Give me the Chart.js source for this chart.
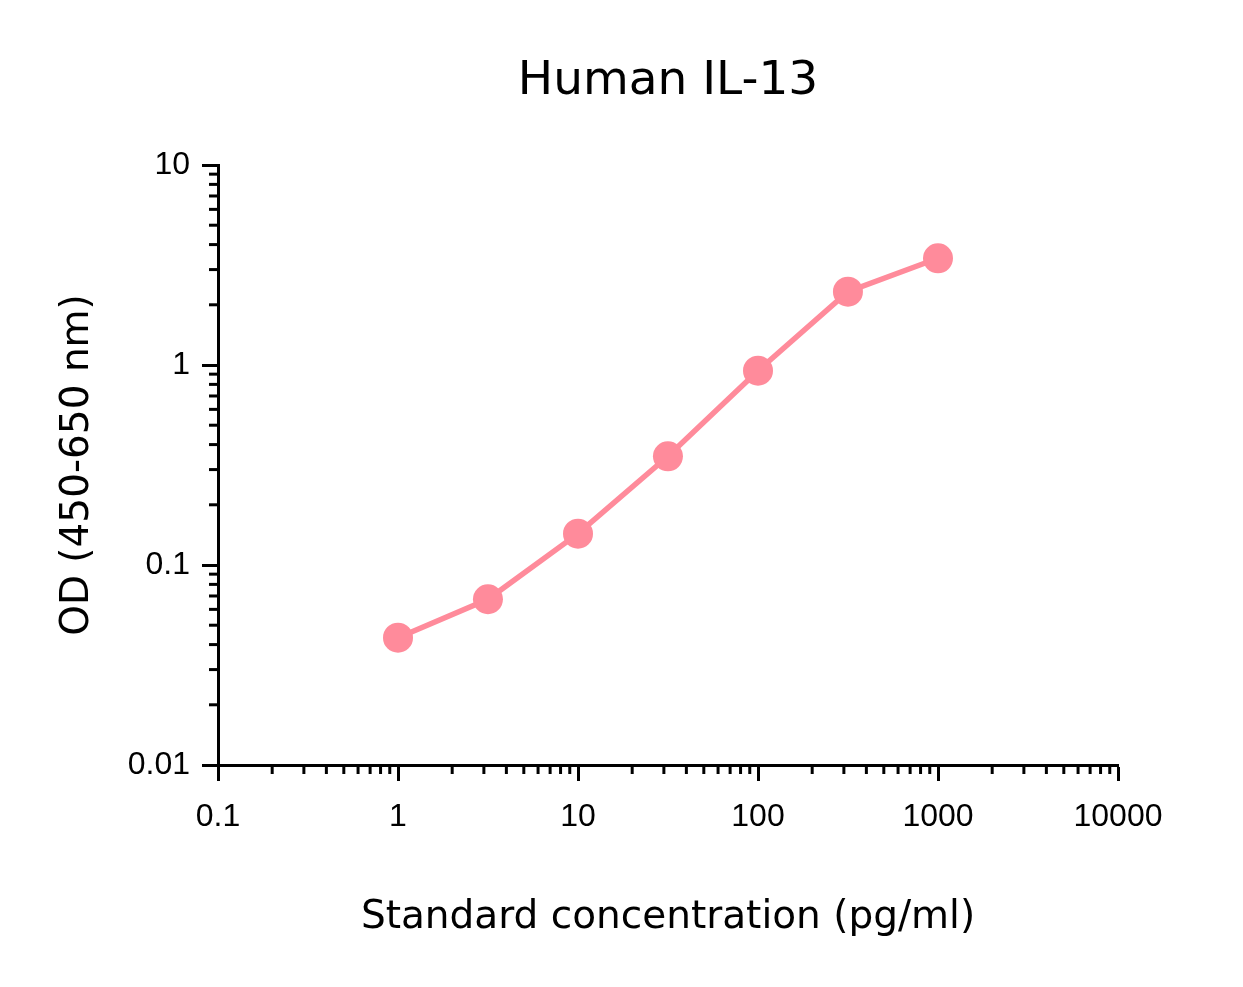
<!DOCTYPE html>
<html>
<head>
<meta charset="utf-8">
<script src="https://cdn.jsdelivr.net/npm/chart.js@4/dist/chart.umd.min.js"></script>
<style>
  html, body { margin: 0; padding: 0; background: #fff; }
  #wrap { width: 1243px; height: 987px; }
</style>
</head>
<body>
<div id="wrap"><canvas id="curva"></canvas></div>
<script>
// Standard curve
const concentrations = [1, 3.16, 10, 31.6, 100, 316, 1000];
const odValues = [0.0433, 0.0674, 0.1434, 0.3496, 0.9365, 2.326, 3.416];

// Axis ticks (powers of ten get a label)
const xMajorTicks = [0.1, 1, 10, 100, 1000, 10000];
const yMajorTicks = [0.01, 0.1, 1, 10];

const pink = 'rgb(255,139,155)';

// Builds major + minor (2..9) ticks for a log axis
function logTicks(majors) {
    const ticks = [];
    majors.forEach((d, i) => {
        ticks.push({ value: d, major: true });
        if (i < majors.length - 1) {
            for (let k = 2; k <= 9; k++) {
                ticks.push({ value: Number((d * k).toPrecision(6)), major: false });
            }
        }
    });
    return ticks;
}

// Short minor tick marks, drawn on top of the library's axes
const minorTicks = {
    id: 'minorTicks',
    afterDraw(chart) {
        const ctx = chart.ctx;
        ctx.save();
        ctx.strokeStyle = '#000';
        ctx.lineWidth = 3;
        ['x', 'y'].forEach(id => {
            const s = chart.scales[id];
            s.ticks.forEach(t => {
                if (t.major) return;
                const p = s.getPixelForValue(t.value);
                ctx.beginPath();
                if (id === 'x') {
                    ctx.moveTo(p, s.top);
                    ctx.lineTo(p, s.top + 9);
                } else {
                    ctx.moveTo(s.right, p);
                    ctx.lineTo(s.right - 9, p);
                }
                ctx.stroke();
            });
        });
        ctx.restore();
    }
};

function eixo(majors, titulo, extra) {
    return Object.assign({
        type: 'logarithmic',
        min: majors[0],
        max: majors[majors.length - 1],
        afterBuildTicks: (scale) => { scale.ticks = logTicks(majors); },
        grid: {
            drawOnChartArea: false,
            tickLength: 16,
            tickWidth: 3,
            tickColor: (c) => (c.tick && c.tick.major) ? '#000' : 'rgba(0,0,0,0)'
        },
        border: { color: '#000', width: 3 },
        ticks: {
            autoSkip: false,
            maxRotation: 0,
            color: '#000',
            font: { family: '"Liberation Sans", Arial, sans-serif', size: 32 },
            callback: (v, i, ticks) => ticks[i].major ? String(v) : ''
        },
        title: {
            display: true,
            text: titulo,
            color: '#000',
            font: { family: '"DejaVu Sans", Verdana, sans-serif', size: 39 }
        }
    }, extra);
}

document.addEventListener('DOMContentLoaded', () => {
    const ctx = document.getElementById('curva').getContext('2d');

    const xAxis = eixo(xMajorTicks, 'Standard concentration (pg/ml)', {
        afterFit: (scale) => { scale.height = 222; }
    });
    xAxis.ticks.padding = 17;
    xAxis.title.padding = { top: 0, bottom: 46 };

    const yAxis = eixo(yMajorTicks, 'OD (450-650 nm)', {
        afterFit: (scale) => { scale.width = 218; }
    });
    yAxis.ticks.padding = 12;
    yAxis.title.padding = { top: 54, bottom: 0 };

    new Chart(ctx, {
        type: 'scatter',
        data: {
            datasets: [{
                data: concentrations.map((c, i) => ({ x: c, y: odValues[i] })),
                showLine: true,
                borderColor: pink,
                borderWidth: 5.5,
                backgroundColor: pink,
                pointBackgroundColor: pink,
                pointBorderWidth: 0,
                pointRadius: 15,
                pointHoverRadius: 15
            }]
        },
        options: {
            responsive: true,
            maintainAspectRatio: false,
            animation: false,
            layout: { padding: { left: 0, right: 125, top: 0, bottom: 0 } },
            scales: { x: xAxis, y: yAxis },
            plugins: {
                legend: { display: false },
                tooltip: { enabled: false },
                title: {
                    display: true,
                    text: 'Human IL-13',
                    fullSize: false,
                    color: '#000',
                    font: { family: '"DejaVu Sans", Verdana, sans-serif', size: 47, weight: 'normal' },
                    padding: { top: 54, bottom: 54.6 }
                }
            }
        },
        plugins: [minorTicks]
    });
});
</script>
</body>
</html>
